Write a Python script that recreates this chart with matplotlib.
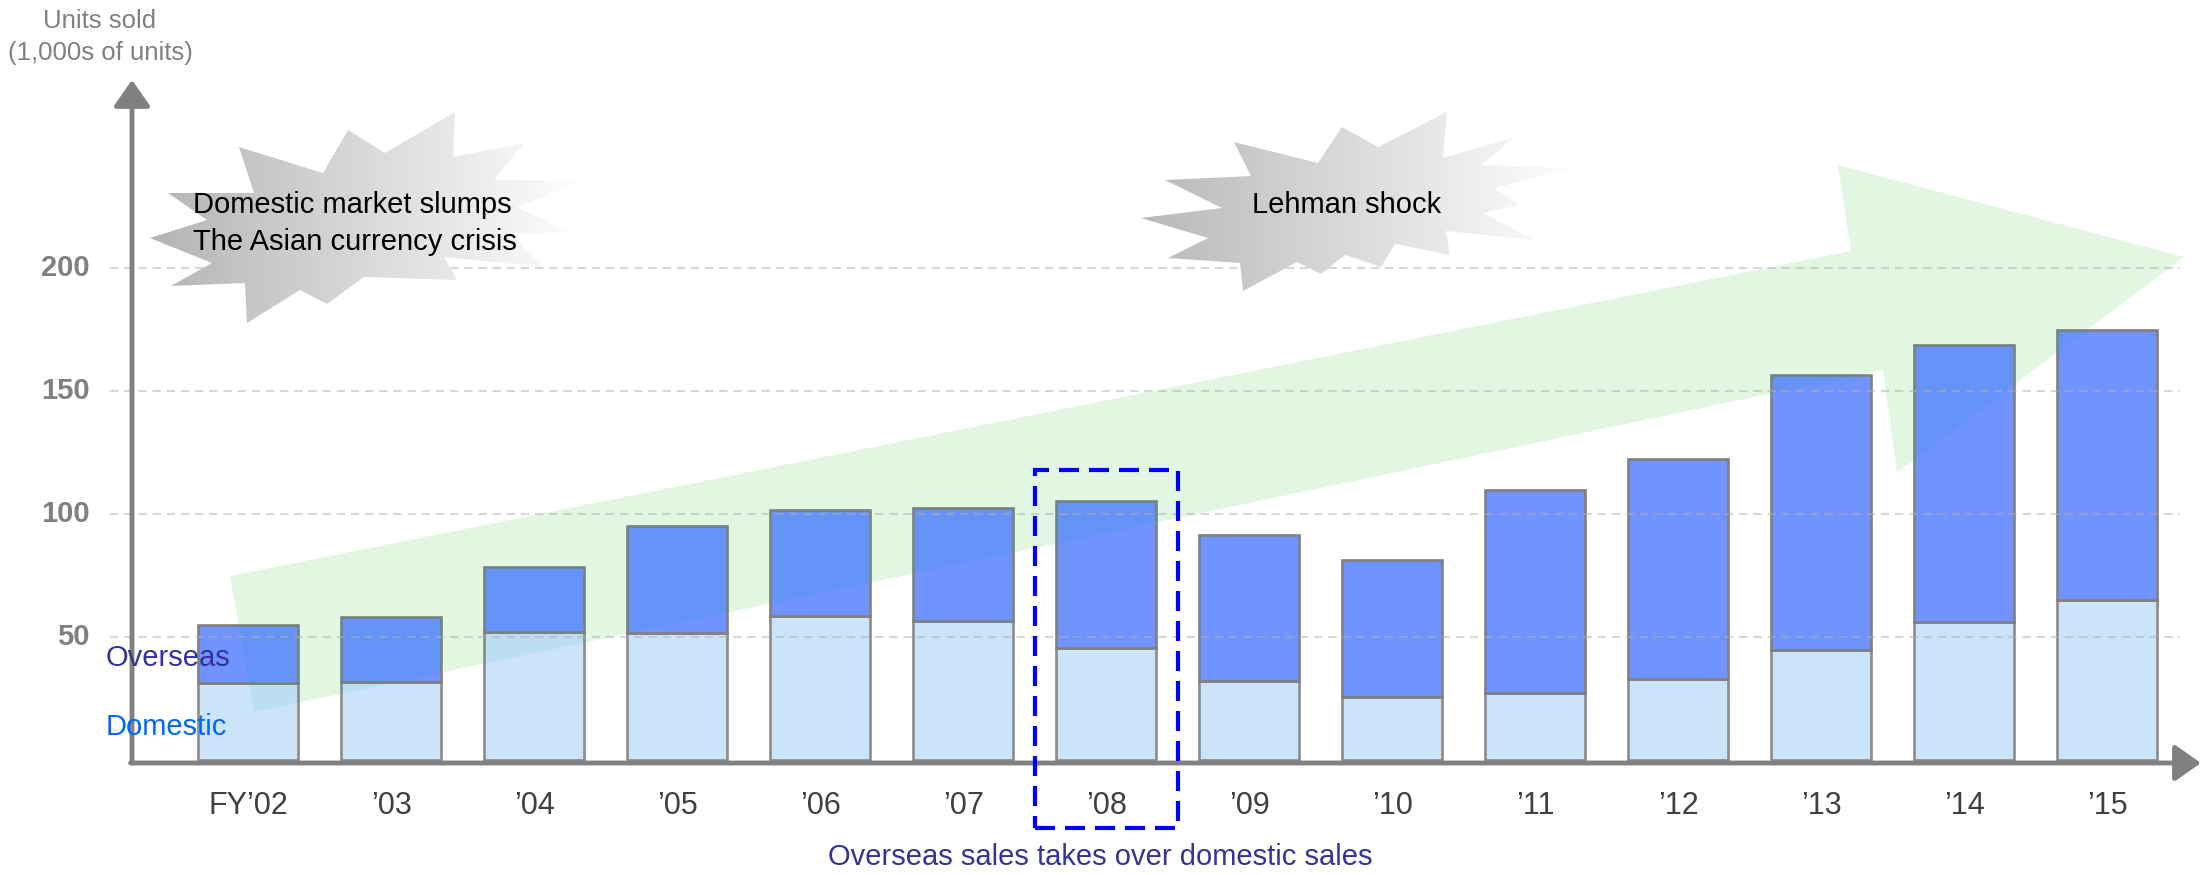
import numpy as np
import matplotlib
matplotlib.use("Agg")
import matplotlib.pyplot as plt
from matplotlib.patches import Polygon, Rectangle
from matplotlib.colors import LinearSegmentedColormap

plt.rcParams['font.family'] = ['Liberation Sans', 'DejaVu Sans']

# units sold, 1,000s of units
years = ["FY\u201902", "\u201903", "\u201904", "\u201905", "\u201906", "\u201907", "\u201908",
         "\u201909", "\u201910", "\u201911", "\u201912", "\u201913", "\u201914", "\u201915"]
domestic = [31.5, 31.8, 52.0, 51.8, 58.7, 56.5, 45.5, 32.0, 25.5, 27.3, 32.8, 44.8, 56.2, 65.2]
overseas = [23.5, 26.5, 26.5, 43.2, 43.0, 46.0, 59.7, 59.5, 55.8, 82.3, 89.5, 111.6, 112.6, 109.6]
yticks = [50, 100, 150, 200]
highlight = "\u201908"

W, H = 2212, 875
# pixel layout of the plot: first bar centre, bar pitch, baseline, px per unit
X0, DX = 248.3, 143.0
Y0, DY = 760.0, 2.46


def px(pts):
    return [((x - X0) / DX, (Y0 - y) / DY) for x, y in pts]


fig = plt.figure(figsize=(W / 100, H / 100), dpi=100)
ax = fig.add_axes([0, 0, 1, 1])
ax.set_xlim(-X0 / DX, (W - X0) / DX)
ax.set_ylim(-(H - Y0) / DY, Y0 / DY)
ax.axis('off')

idx = np.arange(len(years))
ax.bar(idx, domestic, width=0.7, color='#cce4fa', edgecolor='#8c8c8c', lw=1.9, zorder=2)
ax.bar(idx, overseas, bottom=domestic, width=0.7, color='#6f93ff',
       edgecolor='#808080', lw=1.9, zorder=2)

# big growth arrow: pale fill underneath, faint tint over the bars
growth = px([(230, 576), (1851, 251), (1838, 165), (2184, 257),
             (1897, 473), (1883, 370), (254, 712)])
ax.add_patch(Polygon(growth, closed=True, fc='#f6ffe9', ec='none', zorder=1))
ax.add_patch(Polygon(growth, closed=True, fc='#009e8f', ec='none', alpha=0.08, zorder=3))

# dashed gridlines
gx0, gx1 = px([(110, 0)])[0][0], px([(2180, 0)])[0][0]
ax.hlines(yticks, gx0, gx1, colors='#b0b0b0', alpha=0.5, lw=1.5,
          linestyles=(0, (4, 2.8)), zorder=4)
for v in yticks:
    ax.text(px([(90, 0)])[0][0], v, str(v), ha='right', va='center', fontsize=21,
            fontweight='bold', color='#808080',
            family=['Liberation Sans Narrow', 'Liberation Sans', 'DejaVu Sans'])

# axes with arrow heads
ox, oy = px([(132, 763)])[0]
top_y = px([(0, 80)])[0][1]
right_x = px([(2201, 0)])[0][0]
arrow_kw = dict(arrowstyle='-|>,head_length=0.5,head_width=0.35', color='#808080',
                lw=3.5, mutation_scale=32, shrinkA=0, shrinkB=0)
ax.annotate('', xy=(ox, top_y), xytext=(ox, oy), arrowprops=arrow_kw, zorder=5)
ax.annotate('', xy=(right_x, oy), xytext=(ox - 0.01, oy), arrowprops=arrow_kw, zorder=5)

for i, lab in enumerate(years):
    ax.text(i, -18.5, lab, ha='center', va='center', fontsize=22, color='#404040', zorder=6)

ux = px([(100, 0)])[0][0]
ax.text(ux, px([(0, 21)])[0][1], "Units sold", ha='center', va='center',
        fontsize=18.5, color='#808080')
ax.text(ux, px([(0, 53)])[0][1], "(1,000s of units)", ha='center', va='center',
        fontsize=18.5, color='#808080')


def burst(pts, c0):
    poly = Polygon(px(pts), closed=True, fc='none', ec='none', zorder=5)
    ax.add_patch(poly)
    xs = [p[0] for p in px(pts)]
    ys = [p[1] for p in px(pts)]
    cmap = LinearSegmentedColormap.from_list('burst', [c0, '#ffffff'])
    grad = np.linspace(0, 1, 256).reshape(1, -1)
    im = ax.imshow(grad, cmap=cmap, extent=[min(xs), max(xs), min(ys), max(ys)],
                   aspect='auto', zorder=5, interpolation='bilinear')
    im.set_clip_path(poly)


burst([(455, 112), (385, 153), (348, 130), (323, 173), (239, 147), (254, 193),
       (168, 193), (207, 220), (150, 238), (212, 263), (171, 286), (245, 283),
       (247, 323), (300, 290), (327, 304), (364, 277), (457, 280), (444, 257),
       (543, 267), (509, 233), (570, 233), (517, 207), (584, 180), (494, 180),
       (524, 143), (453, 157)], '#b4b4b4')
burst([(1234, 142), (1318, 163), (1342, 127), (1378, 147), (1447, 112), (1443, 158),
       (1515, 137), (1481, 165), (1575, 168), (1494, 188), (1519, 205), (1483, 213),
       (1534, 240), (1446, 231), (1450, 255), (1395, 244), (1381, 267), (1345, 255),
       (1321, 274), (1297, 262), (1243, 291), (1240, 263), (1168, 258), (1208, 238),
       (1141, 218), (1222, 208), (1165, 180), (1251, 176)], '#b8b8b8')

tx = px([(193, 0)])[0][0]
ax.text(tx, px([(0, 205)])[0][1], "Domestic market slumps", ha='left', va='center',
        fontsize=21, color='black', zorder=6)
ax.text(tx, px([(0, 242)])[0][1], "The Asian currency crisis", ha='left', va='center',
        fontsize=21, color='black', zorder=6)
lx, ly = px([(1347, 205)])[0]
ax.text(lx, ly, "Lehman shock", ha='center', va='center', fontsize=21,
        color='black', zorder=6)

sx = px([(106, 0)])[0][0]
ax.text(sx, px([(0, 658)])[0][1], "Overseas", ha='left', va='center', fontsize=21,
        color='#333399', zorder=6)
ax.text(sx, px([(0, 727)])[0][1], "Domestic", ha='left', va='center', fontsize=21,
        color='#0066ff', zorder=6)

# year when overseas sales overtake domestic
hi = years.index(highlight)
by0 = px([(0, 828)])[0][1]
by1 = px([(0, 470)])[0][1]
ax.add_patch(Rectangle((hi - 0.5, by0), 1.0, by1 - by0, fill=False, ec='#0000ff',
                       lw=3, linestyle=(0, (4.8, 2.4)), zorder=7))
cx, cy = px([(1100, 857)])[0]
ax.text(cx, cy, "Overseas sales takes over domestic sales", ha='center', va='center',
        fontsize=21, color='#333399', zorder=6)

fig.savefig("out.png", dpi=100)
